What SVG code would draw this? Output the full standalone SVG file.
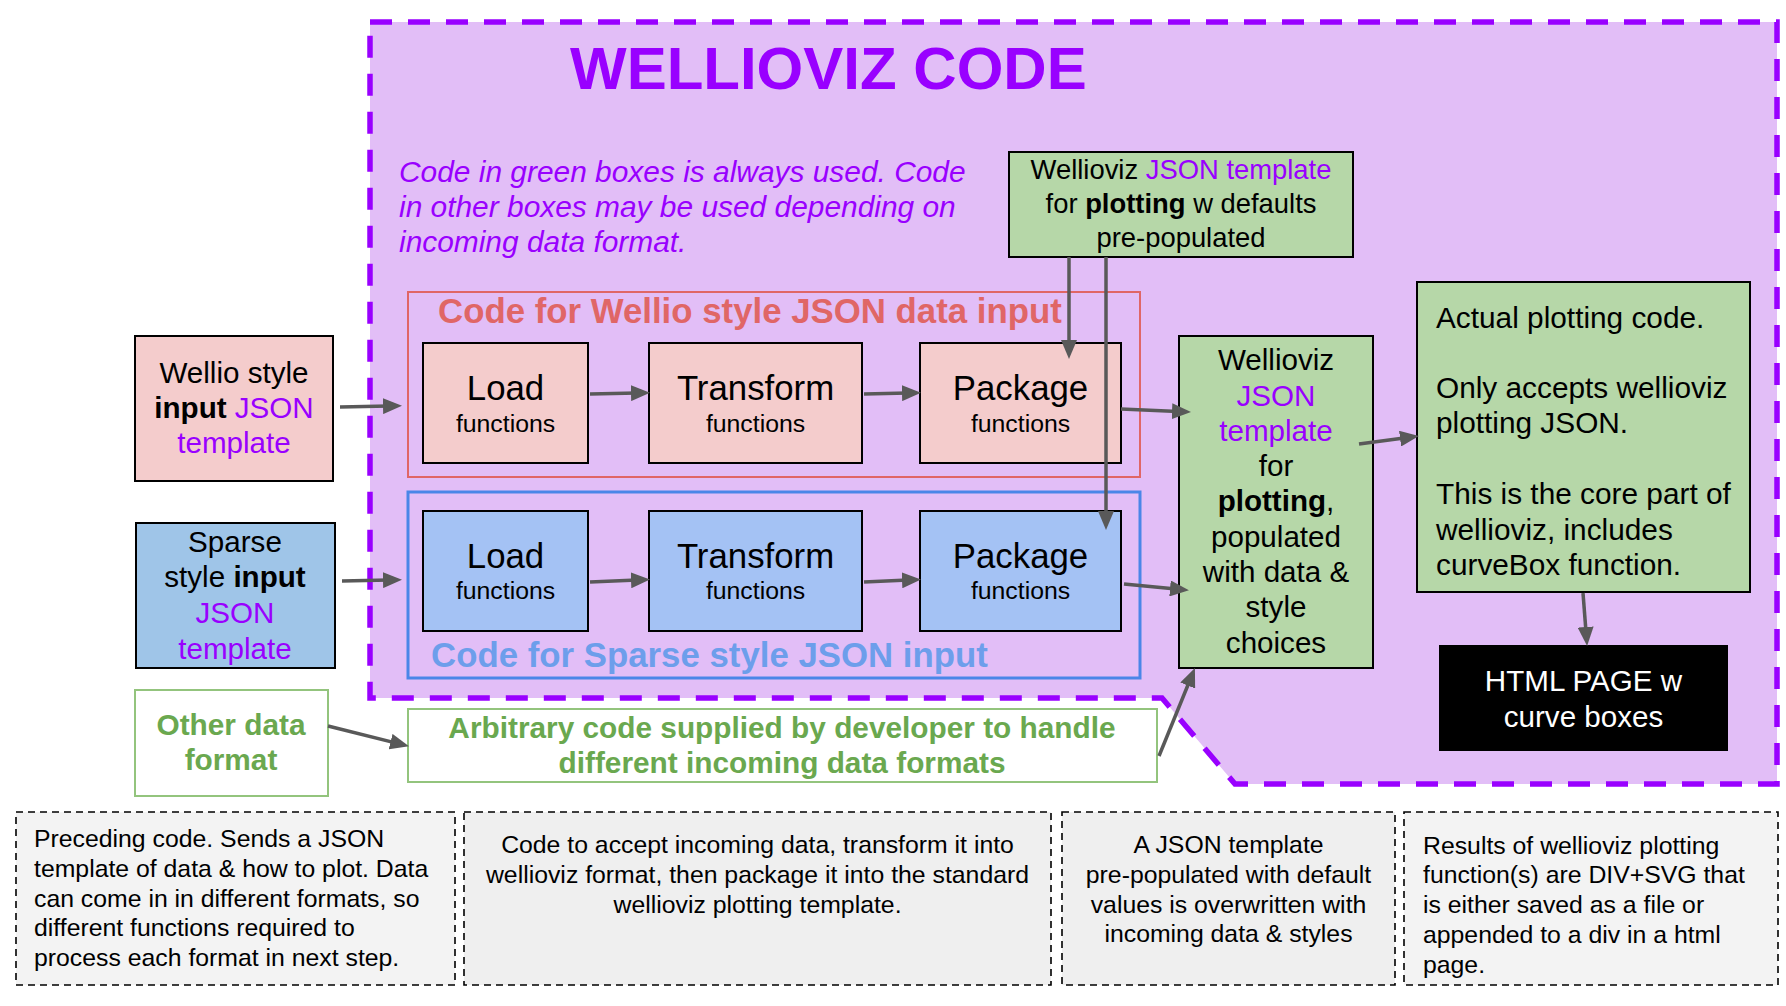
<svg xmlns="http://www.w3.org/2000/svg" width="1786" height="1006" viewBox="0 0 1786 1006">
<style>
text{font-family:"Liberation Sans",Arial,Helvetica,sans-serif;fill:#000}
.c{text-anchor:middle}
.f29{font-size:29.6px}
.f30{font-size:29.8px}
.f27{font-size:27.4px}
.f35{font-size:34.8px}
.f24{font-size:24.8px}
.b{font-weight:bold}
.pu{fill:#9900ff}
.box{stroke:#000;stroke-width:2}
.pink{fill:#f4cccc}
.blue{fill:#a4c2f4}
.green{fill:#b6d7a8}
.note{stroke:#000;stroke-width:1.6;stroke-dasharray:7 5}
.conn{stroke:#595959;stroke-width:3.5;fill:none;marker-end:url(#ah)}
</style>
<defs>
<marker id="ah" markerUnits="userSpaceOnUse" markerWidth="19" markerHeight="16" refX="6" refY="8" orient="auto">
<path d="M0,0 L19,8 L0,16 z" fill="#595959"/>
</marker>
</defs>
<rect width="1786" height="1006" fill="#fff"/>

<g id="wellioviz-code">
<path d="M370,22 H1777 V784 H1235 L1162,698 H370 Z" fill="#e2bef7" stroke="#9900ff" stroke-width="5.5" stroke-dasharray="22 16"/>
<text x="570" y="89" class="b pu" style="font-size:60px">WELLIOVIZ CODE</text>
<text class="pu" style="font-style:italic;font-size:29.9px"><tspan x="399" y="182">Code in green boxes is always used. Code</tspan><tspan x="399" y="217">in other boxes may be used depending on</tspan><tspan x="399" y="252">incoming data format.</tspan></text>
</g>

<g id="wellio-group">
<rect x="408" y="292" width="732" height="185" fill="none" stroke="#e06666" stroke-width="2"/>
<text x="438" y="323" class="f35 b" style="fill:#e06666">Code for Wellio style JSON data input</text>
</g>

<g id="sparse-group">
<rect x="408" y="492" width="732" height="186" fill="none" stroke="#4a86e8" stroke-width="3"/>
<text x="431" y="667" class="f35 b" style="fill:#6d9eeb">Code for Sparse style JSON input</text>
</g>

<g id="wellio-input">
<rect x="135" y="336" width="198" height="145" class="box pink"/>
<text class="f29 c"><tspan x="234" y="383">Wellio style</tspan><tspan x="234" y="418"><tspan class="b">input</tspan> <tspan class="pu">JSON</tspan></tspan><tspan x="234" y="453" class="pu">template</tspan></text>
</g>

<g id="sparse-input">
<rect x="136" y="523" width="199" height="145" class="box" fill="#9fc5e8"/>
<text class="f29 c"><tspan x="235" y="552">Sparse</tspan><tspan x="235" y="587">style <tspan class="b">input</tspan></tspan><tspan x="235" y="623" class="pu">JSON</tspan><tspan x="235" y="659" class="pu">template</tspan></text>
</g>

<g id="other-input">
<rect x="135" y="690" width="193" height="106" fill="#fff" stroke="#93c47d" stroke-width="2"/>
<text class="f30 c b" style="fill:#6aa84f"><tspan x="231" y="735">Other data</tspan><tspan x="231" y="770">format</tspan></text>
</g>

<g id="wellio-load">
<rect x="423" y="343" width="165" height="120" class="box pink"/>
<text x="505.5" y="400" class="f35 c">Load</text>
<text x="505.5" y="432" class="f24 c">functions</text>
</g>
<g id="wellio-transform">
<rect x="649" y="343" width="213" height="120" class="box pink"/>
<text x="755.5" y="400" class="f35 c">Transform</text>
<text x="755.5" y="432" class="f24 c">functions</text>
</g>
<g id="wellio-package">
<rect x="920" y="343" width="201" height="120" class="box pink"/>
<text x="1020.5" y="400" class="f35 c">Package</text>
<text x="1020.5" y="432" class="f24 c">functions</text>
</g>

<g id="sparse-load">
<rect x="423" y="511" width="165" height="120" class="box blue"/>
<text x="505.5" y="568" class="f35 c">Load</text>
<text x="505.5" y="599" class="f24 c">functions</text>
</g>
<g id="sparse-transform">
<rect x="649" y="511" width="213" height="120" class="box blue"/>
<text x="755.5" y="568" class="f35 c">Transform</text>
<text x="755.5" y="599" class="f24 c">functions</text>
</g>
<g id="sparse-package">
<rect x="920" y="511" width="201" height="120" class="box blue"/>
<text x="1020.5" y="568" class="f35 c">Package</text>
<text x="1020.5" y="599" class="f24 c">functions</text>
</g>

<g id="arbitrary-code">
<rect x="408" y="709" width="749" height="73" fill="#fff" stroke="#93c47d" stroke-width="2"/>
<text class="f30 c b" style="fill:#6aa84f"><tspan x="782" y="738">Arbitrary code supplied by developer to handle</tspan><tspan x="782" y="773">different incoming data formats</tspan></text>
</g>

<g id="default-template">
<rect x="1009" y="152" width="344" height="105" class="box green"/>
<text class="f27 c"><tspan x="1181" y="179">Wellioviz <tspan class="pu">JSON template</tspan></tspan><tspan x="1181" y="213">for <tspan class="b">plotting</tspan> w defaults</tspan><tspan x="1181" y="247">pre-populated</tspan></text>
</g>

<g id="populated-template">
<rect x="1179" y="336" width="194" height="332" class="box green"/>
<text class="f29 c"><tspan x="1276" y="370">Wellioviz</tspan><tspan x="1276" y="406" class="pu">JSON</tspan><tspan x="1276" y="441" class="pu">template</tspan><tspan x="1276" y="476">for</tspan><tspan x="1276" y="511"><tspan class="b">plotting</tspan>,</tspan><tspan x="1276" y="547">populated</tspan><tspan x="1276" y="582">with data &amp;</tspan><tspan x="1276" y="617">style</tspan><tspan x="1276" y="653">choices</tspan></text>
</g>

<g id="plotting-code">
<rect x="1417" y="282" width="333" height="310" class="box green"/>
<text class="f30"><tspan x="1436" y="328">Actual plotting code.</tspan><tspan x="1436" y="398">Only accepts wellioviz</tspan><tspan x="1436" y="433">plotting JSON.</tspan><tspan x="1436" y="504">This is the core part of</tspan><tspan x="1436" y="540">wellioviz, includes</tspan><tspan x="1436" y="575">curveBox function.</tspan></text>
</g>

<g id="html-page">
<rect x="1439" y="645" width="289" height="106" fill="#000"/>
<text class="f29 c"><tspan x="1583.5" y="691" style="fill:#fff">HTML PAGE w</tspan><tspan x="1583.5" y="727" style="fill:#fff">curve boxes</tspan></text>
</g>

<g id="note-1">
<rect x="16" y="812" width="439" height="173" fill="#f3f3f3" class="note"/>
<text class="f24"><tspan x="34" y="847">Preceding code. Sends a JSON</tspan><tspan x="34" y="877">template of data &amp; how to plot. Data</tspan><tspan x="34" y="907">can come in in different formats, so</tspan><tspan x="34" y="936">different functions required to</tspan><tspan x="34" y="966">process each format in next step.</tspan></text>
</g>
<g id="note-2">
<rect x="464" y="812" width="587" height="173" fill="#efefef" class="note"/>
<text class="f24 c"><tspan x="757.5" y="853">Code to accept incoming data, transform it into</tspan><tspan x="757.5" y="883">wellioviz format, then package it into the standard</tspan><tspan x="757.5" y="913">wellioviz plotting template.</tspan></text>
</g>
<g id="note-3">
<rect x="1062" y="812" width="333" height="173" fill="#efefef" class="note"/>
<text class="f24 c"><tspan x="1228.5" y="853">A JSON template</tspan><tspan x="1228.5" y="883">pre-populated with default</tspan><tspan x="1228.5" y="913">values is overwritten with</tspan><tspan x="1228.5" y="942">incoming data &amp; styles</tspan></text>
</g>
<g id="note-4">
<rect x="1404" y="812" width="374" height="173" fill="#f3f3f3" class="note"/>
<text class="f24"><tspan x="1423" y="854">Results of wellioviz plotting</tspan><tspan x="1423" y="883">function(s) are DIV+SVG that</tspan><tspan x="1423" y="913">is either saved as a file or</tspan><tspan x="1423" y="943">appended to a div in a html</tspan><tspan x="1423" y="973">page.</tspan></text>
</g>

<g id="connectors">
<path class="conn" d="M340,407 L389,406"/>
<path class="conn" d="M342,581 L389,580"/>
<path class="conn" d="M590,394 L637,393"/>
<path class="conn" d="M864,394 L908,393"/>
<path class="conn" d="M590,582 L637,580"/>
<path class="conn" d="M864,582 L908,580"/>
<path class="conn" d="M1121,409 L1178,411.5"/>
<path class="conn" d="M1124,584 L1176,589"/>
<path class="conn" d="M328,726 L396.4,743.1"/>
<path class="conn" d="M1159,756 L1190,680"/>
<path class="conn" d="M1359,444 L1406,437.8"/>
<path class="conn" d="M1583,593 L1586.1,633"/>
<path class="conn" d="M1069,257 L1069,346"/>
<path class="conn" d="M1106,257 L1106,517"/>
</g>
</svg>
